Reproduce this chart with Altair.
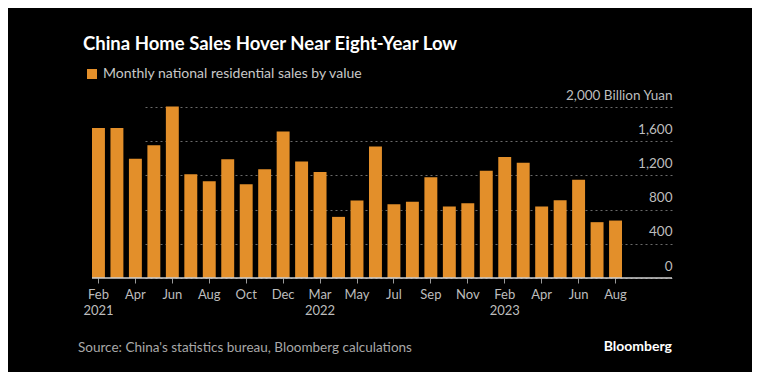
import altair as alt
import pandas as pd

months = ["Feb 2021", "Mar 2021", "Apr 2021", "May 2021", "Jun 2021", "Jul 2021",
          "Aug 2021", "Sep 2021", "Oct 2021", "Nov 2021", "Dec 2021",
          "Feb 2022", "Mar 2022", "Apr 2022", "May 2022", "Jun 2022", "Jul 2022",
          "Aug 2022", "Sep 2022", "Oct 2022", "Nov 2022", "Dec 2022",
          "Feb 2023", "Mar 2023", "Apr 2023", "May 2023", "Jun 2023", "Jul 2023",
          "Aug 2023"]
sales = [1753, 1753, 1395, 1554, 2006, 1213, 1131, 1388, 1096, 1271, 1714,
         1364, 1240, 715, 905, 1539, 863, 893, 1178, 835, 874, 1255,
         1414, 1348, 835, 909, 1150, 653, 672]
series_name = "Monthly national residential sales by value"
year_starts = ["Feb 2021", "Mar 2022", "Feb 2023"]
y_ticks = [0, 400, 800, 1200, 1600, 2000]

df = pd.DataFrame({"month": months, "sales": sales, "series": series_name})
tick_months = months[::2]

BG = "#000000"
ORANGE = "#e38f2a"
FONT = "Lato"

ys = ", ".join("'%s'" % m for m in year_starts)
label_expr = ("indexof([%s], datum.value) >= 0 ? split(datum.value, ' ') : "
              "split(datum.value, ' ')[0]") % ys

yscale = alt.Scale(domain=[0, 2000], nice=False)
yaxis = alt.Axis(orient="right", values=y_ticks, title=None,
                 labelExpr="datum.value == 2000 ? '2,000 Billion Yuan' : format(datum.value, ',')",
                 grid=True, gridColor="#6a6a6a", gridDash=[2, 3], gridWidth=1,
                 domain=False, ticks=False, labelAlign="right",
                 labelPadding=0, labelBaseline="bottom", labelOffset=-5,
                 labelOverlap=False, labelFlush=False, labelBound=False,
                 labelColor="#bdbdbd", labelFontSize=13.5, labelFont=FONT,
                 labelLimit=300)

bars = alt.Chart(df).mark_bar(color=ORANGE).encode(
    x=alt.X("month:N", sort=months,
            scale=alt.Scale(range=[0, 530], paddingInner=0.3, paddingOuter=0),
            axis=alt.Axis(values=tick_months, labelExpr=label_expr, labelAngle=0,
                          title=None, domain=False, grid=False,
                          ticks=True, tickSize=5, tickColor="#9a9a9a",
                          labelColor="#bdbdbd", labelFontSize=13, labelFont=FONT,
                          labelPadding=5, labelLineHeight=16, labelBaseline="top",
                          labelOverlap=False)),
    y=alt.Y("sales:Q", scale=yscale, axis=yaxis),
    color=alt.Color("series:N", scale=alt.Scale(range=[ORANGE]),
                    legend=alt.Legend(orient="none", legendX=-7, legendY=-40,
                                      title=None, symbolType="square", symbolSize=100,
                                      symbolStrokeWidth=0,
                                      labelColor="#c8c8c8", labelFontSize=14,
                                      labelFont=FONT, labelLimit=400)),
)

baseline = alt.Chart(pd.DataFrame({"v": [0]})).mark_rule(color="#d0d0d0", strokeWidth=1.3).encode(
    y=alt.Y("v:Q", scale=yscale, axis=yaxis),
    x=alt.value(0), x2=alt.value(580))

source = alt.Chart(pd.DataFrame({"t": ["Source: China's statistics bureau, Bloomberg calculations"]})).mark_text(
    align="left", baseline="middle", fontSize=13.5, font=FONT, color="#a8a8a8").encode(
    text="t:N", x=alt.value(-14), y=alt.value(241))

brand = alt.Chart(pd.DataFrame({"t": ["Bloomberg"]})).mark_text(
    align="right", baseline="middle", fontSize=14, font=FONT, fontWeight="bold",
    color="#ffffff").encode(text="t:N", x=alt.value(580), y=alt.value(240))

chart = alt.layer(bars, baseline, source, brand).properties(
    width=580, height=171,
    background=BG,
    padding={"left": 84, "top": 99, "right": 80, "bottom": 94},
    autosize=alt.AutoSizeParams(type="none"),
    title=alt.Title("China Home Sales Hover Near Eight-Year Low", anchor="start",
                    frame="group", dx=-9, offset=14, fontSize=18.5, font=FONT,
                    fontWeight="bold", color="#ffffff"),
).configure_view(stroke=None)

chart.save("out.html", embed_options={"renderer": "svg", "actions": False})
